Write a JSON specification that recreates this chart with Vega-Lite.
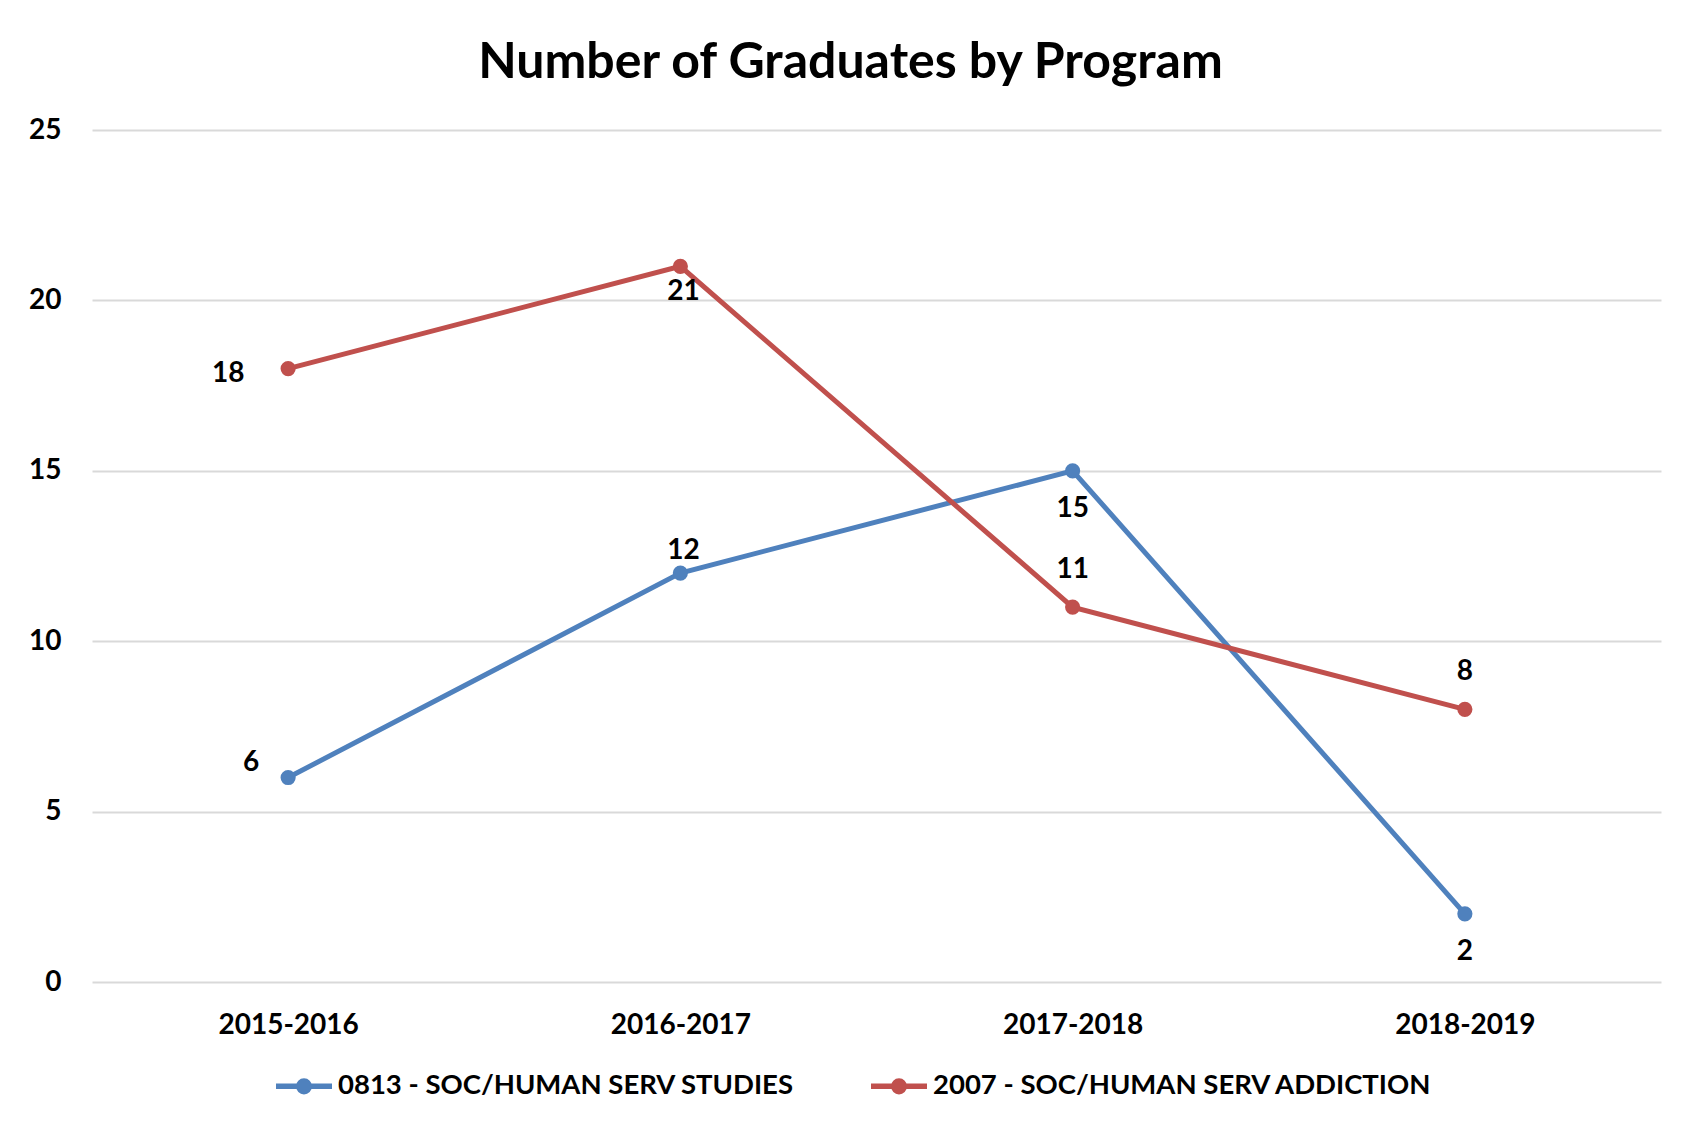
{
  "$schema": "https://vega.github.io/schema/vega-lite/v6.json",
  "autosize": {"type": "none"},
  "width": 1569,
  "height": 852,
  "padding": {"left": 92, "top": 130, "right": 21, "bottom": 140},
  "background": "white",
  "title": {
    "text": "Number of Graduates by Program",
    "font": "Lato",
    "fontSize": 50,
    "fontWeight": "bold",
    "color": "black",
    "anchor": "middle",
    "frame": "group",
    "baseline": "alphabetic",
    "dx": -26,
    "offset": -12
  },
  "data": {
    "values": [
      {"series": "0813 - SOC/HUMAN SERV STUDIES", "year": "2015-2016", "value": 6},
      {"series": "0813 - SOC/HUMAN SERV STUDIES", "year": "2016-2017", "value": 12},
      {"series": "0813 - SOC/HUMAN SERV STUDIES", "year": "2017-2018", "value": 15},
      {"series": "0813 - SOC/HUMAN SERV STUDIES", "year": "2018-2019", "value": 2},
      {"series": "2007 - SOC/HUMAN SERV ADDICTION", "year": "2015-2016", "value": 18},
      {"series": "2007 - SOC/HUMAN SERV ADDICTION", "year": "2016-2017", "value": 21},
      {"series": "2007 - SOC/HUMAN SERV ADDICTION", "year": "2017-2018", "value": 11},
      {"series": "2007 - SOC/HUMAN SERV ADDICTION", "year": "2018-2019", "value": 8}
    ]
  },
  "encoding": {
    "x": {
      "field": "year", "type": "ordinal",
      "scale": {"type": "point", "padding": 0.5},
      "axis": {"title": null, "labelAngle": 0, "domain": false, "ticks": false, "grid": false, "labelPadding": 29}
    },
    "y": {
      "field": "value", "type": "quantitative",
      "scale": {"domain": [0, 25], "nice": false},
      "axis": {"title": null, "values": [0, 5, 10, 15, 20, 25], "domain": false, "ticks": false, "grid": true, "labelPadding": 31}
    }
  },
  "layer": [
    {
      "mark": {"type": "line", "strokeWidth": 5},
      "encoding": {
        "color": {
          "field": "series", "type": "nominal",
          "scale": {"domain": ["0813 - SOC/HUMAN SERV STUDIES", "2007 - SOC/HUMAN SERV ADDICTION"], "range": ["#4F81BD", "#C0504D"]},
          "legend": {
            "title": null, "orient": "none", "direction": "horizontal",
            "legendX": 181, "legendY": 925,
            "symbolType": "M-1,0H1M0.19,0A0.19,0.19 0 1,1 -0.19,0A0.19,0.19 0 1,1 0.19,0",
            "symbolSize": 3136, "symbolStrokeWidth": 5.5,
            "labelOffset": 3, "columnPadding": 65, "padding": 0
          }
        }
      }
    },
    {
      "mark": {"type": "point", "filled": true, "size": 230, "opacity": 1},
      "encoding": {
        "color": {
          "field": "series", "type": "nominal",
          "scale": {"domain": ["0813 - SOC/HUMAN SERV STUDIES", "2007 - SOC/HUMAN SERV ADDICTION"], "range": ["#4F81BD", "#C0504D"]},
          "legend": {
            "title": null, "orient": "none", "direction": "horizontal",
            "legendX": 181, "legendY": 925,
            "symbolType": "M-1,0H1M0.19,0A0.19,0.19 0 1,1 -0.19,0A0.19,0.19 0 1,1 0.19,0",
            "symbolSize": 3136, "symbolStrokeWidth": 5.5,
            "labelOffset": 3, "columnPadding": 65, "padding": 0
          }
        }
      }
    },
    {
      "transform": [{"filter": "datum.series == '2007 - SOC/HUMAN SERV ADDICTION' && (datum.year == '2017-2018' || datum.year == '2018-2019')"}],
      "mark": {"type": "text", "font": "Lato", "fontSize": 28, "fontWeight": "bold", "color": "black", "baseline": "middle", "dy": -37},
      "encoding": {"text": {"field": "value", "type": "quantitative"}}
    },
    {
      "transform": [{"filter": "datum.series == '0813 - SOC/HUMAN SERV STUDIES' && (datum.year == '2017-2018' || datum.year == '2018-2019')"}],
      "mark": {"type": "text", "font": "Lato", "fontSize": 28, "fontWeight": "bold", "color": "black", "baseline": "middle", "dy": 38},
      "encoding": {"text": {"field": "value", "type": "quantitative"}}
    },
    {
      "transform": [{"filter": "datum.series == '0813 - SOC/HUMAN SERV STUDIES' && datum.year == '2016-2017'"}],
      "mark": {"type": "text", "font": "Lato", "fontSize": 28, "fontWeight": "bold", "color": "black", "baseline": "middle", "dx": 3, "dy": -22},
      "encoding": {"text": {"field": "value", "type": "quantitative"}}
    },
    {
      "transform": [{"filter": "datum.series == '2007 - SOC/HUMAN SERV ADDICTION' && datum.year == '2016-2017'"}],
      "mark": {"type": "text", "font": "Lato", "fontSize": 28, "fontWeight": "bold", "color": "black", "baseline": "middle", "dx": 3, "dy": 26},
      "encoding": {"text": {"field": "value", "type": "quantitative"}}
    },
    {
      "transform": [{"filter": "datum.series == '2007 - SOC/HUMAN SERV ADDICTION' && datum.year == '2015-2016'"}],
      "mark": {"type": "text", "font": "Lato", "fontSize": 28, "fontWeight": "bold", "color": "black", "baseline": "middle", "dx": -60, "dy": 5},
      "encoding": {"text": {"field": "value", "type": "quantitative"}}
    },
    {
      "transform": [{"filter": "datum.series == '0813 - SOC/HUMAN SERV STUDIES' && datum.year == '2015-2016'"}],
      "mark": {"type": "text", "font": "Lato", "fontSize": 28, "fontWeight": "bold", "color": "black", "baseline": "middle", "dx": -37, "dy": -15},
      "encoding": {"text": {"field": "value", "type": "quantitative"}}
    }
  ],
  "config": {
    "view": {"stroke": null},
    "axis": {
      "labelFont": "Lato", "labelFontSize": 28, "labelFontWeight": "bold", "labelColor": "black",
      "gridColor": "#D9D9D9", "gridWidth": 2
    },
    "legend": {
      "labelFont": "Lato", "labelFontSize": 27.5, "labelFontWeight": "bold", "labelColor": "black", "labelLimit": 800
    }
  }
}
